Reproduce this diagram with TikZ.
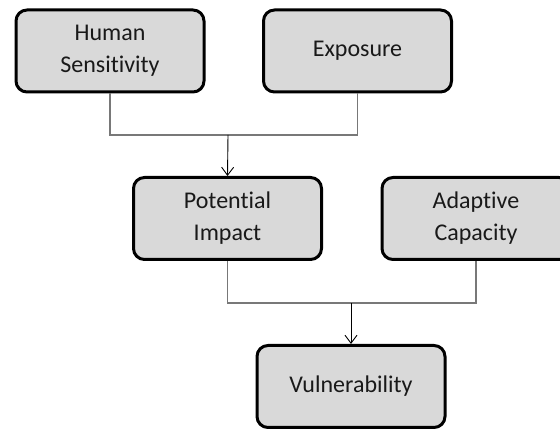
\documentclass[tikz,border=0pt]{standalone}
\usepackage{fontspec}
\setmainfont{Carlito}[Ligatures={NoCommon}]
\usetikzlibrary{arrows.meta}
\begin{document}
\begin{tikzpicture}[x=1pt,y=1pt,
  box/.style={draw=black, line width=3pt, rounded corners=11pt, fill={rgb,255:red,217;green,217;blue,217},
    minimum width=188pt, minimum height=82pt, align=center, font=\fontsize{24}{32}\selectfont, text={rgb,255:red,25;green,25;blue,25}, inner sep=0pt},
  leg/.style={draw={rgb,255:red,120;green,120;blue,120}, line width=1.2pt},
  arr/.style={draw=black, line width=0.9pt, -{Straight Barb[length=8pt,width=12pt,line width=0.9pt]}}]
\path[use as bounding box, clip] (0,0) rectangle (560,430);
\node[box] (hs) at (110,379) {Human\\Sensitivity};
\node[box] (ex) at (357.5,379) {Exposure};
\node[box] (pi) at (227.5,211.5) {Potential\\Impact};
\node[box] (ac) at (476,211.5) {Adaptive\\Capacity};
\node[box] (vu) at (351,43.5) {Vulnerability};
\coordinate (j1) at (228,295);
\coordinate (j2) at (351,127);
\draw[leg] (hs.south) |- (j1) -| (ex.south);
\draw[arr] (j1) -- (pi.north);
\draw[leg] (pi.south) |- (j2) -| (ac.south);
\draw[arr] (j2) -- (vu.north);
\end{tikzpicture}
\end{document}
